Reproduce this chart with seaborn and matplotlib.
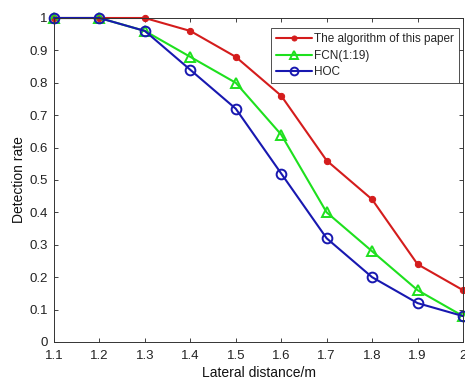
import matplotlib
matplotlib.use("Agg")
import matplotlib.pyplot as plt
import seaborn as sns
import pandas as pd

# Detection rate versus lateral distance for three methods
distance = [1.1, 1.2, 1.3, 1.4, 1.5, 1.6, 1.7, 1.8, 1.9, 2.0]
ours = [1.00, 1.00, 1.00, 0.96, 0.88, 0.76, 0.56, 0.44, 0.24, 0.16]
fcn = [1.00, 1.00, 0.96, 0.88, 0.80, 0.64, 0.40, 0.28, 0.16, 0.08]
hoc = [1.00, 1.00, 0.96, 0.84, 0.72, 0.52, 0.32, 0.20, 0.12, 0.08]
labels = ["The algorithm of this paper", "FCN(1:19)", "HOC"]
x_ticks = [1.1, 1.2, 1.3, 1.4, 1.5, 1.6, 1.7, 1.8, 1.9, 2.0]
x_tick_labels = ["1.1", "1.2", "1.3", "1.4", "1.5", "1.6", "1.7", "1.8", "1.9", "2"]
y_ticks = [0, 0.1, 0.2, 0.3, 0.4, 0.5, 0.6, 0.7, 0.8, 0.9, 1.0]
y_tick_labels = ["0", "0.1", "0.2", "0.3", "0.4", "0.5", "0.6", "0.7", "0.8", "0.9", "1"]

df = pd.DataFrame({
    "distance": distance * 3,
    "rate": ours + fcn + hoc,
    "method": [labels[0]] * 10 + [labels[1]] * 10 + [labels[2]] * 10,
})

sns.set_style("white")
plt.rcParams["font.family"] = ["Liberation Sans", "DejaVu Sans"]

fig = plt.figure(figsize=(4.65, 3.81), dpi=100)
ax = fig.add_axes([54 / 465, 39 / 381, 409 / 465, 324 / 381])

styles = {
    labels[0]: dict(color="#d41c1c", marker="o", markersize=4.5, markerfacecolor="#d41c1c",
                    markeredgecolor="#d41c1c"),
    labels[1]: dict(color="#1ee01e", marker="^", markersize=7.5, markerfacecolor="none",
                    markeredgecolor="#1ee01e", markeredgewidth=1.4),
    labels[2]: dict(color="#1818b0", marker="o", markersize=7, markerfacecolor="none",
                    markeredgecolor="#1818b0", markeredgewidth=1.4),
}

for name in labels:
    sub = df[df["method"] == name]
    sns.lineplot(data=sub, x="distance", y="rate", ax=ax, label=name,
                 linewidth=1.5, clip_on=False, **styles[name])

ax.set_xlim(1.1, 2.0)
ax.set_ylim(0, 1)
ax.set_xticks(x_ticks)
ax.set_xticklabels(x_tick_labels)
ax.set_yticks(y_ticks)
ax.set_yticklabels(y_tick_labels)
ax.tick_params(direction="in", length=3, width=0.6, colors="#222222", labelsize=9.5,
               top=True, right=True, bottom=True, left=True)
ax.tick_params(axis="x", pad=5.5)
ax.tick_params(axis="y", pad=4.5)
for sp in ax.spines.values():
    sp.set_visible(True)
    sp.set_color("#333333")
    sp.set_linewidth(0.7)

ax.set_xlabel("Lateral distance/m", fontsize=10, color="#111111", labelpad=3)
ax.set_ylabel("Detection rate", fontsize=10, color="#111111", labelpad=2)

leg = ax.legend(loc="upper right", bbox_to_anchor=(0.99, 0.969), borderaxespad=0,
                fontsize=8.5, handlelength=3.0, handletextpad=0.2, labelspacing=0.4,
                borderpad=0.42, fancybox=False, frameon=True, markerscale=0.8)
leg.get_frame().set_edgecolor("#222222")
leg.get_frame().set_linewidth(0.7)

fig.savefig("out.png", dpi=100)
